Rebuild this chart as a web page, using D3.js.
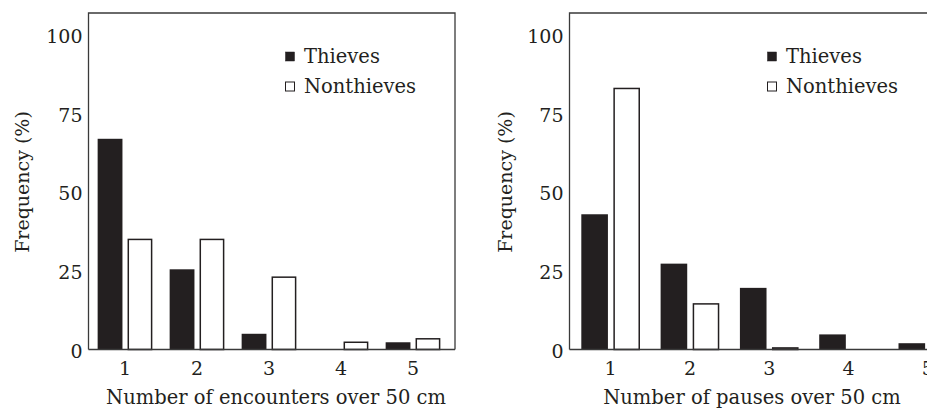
<!DOCTYPE html>
<html>
<head>
<meta charset="utf-8">
<script src="https://cdn.jsdelivr.net/npm/d3@7"></script>
<style>
  html, body { margin: 0; padding: 0; background: #fff; }
  svg { display: block; }
  text { font-family: "DejaVu Serif", "Liberation Serif", serif; fill: #231f20; }
</style>
</head>
<body>
<svg id="chart" width="927" height="409"></svg>
<script>
// ---- data ----
const categories = ["1", "2", "3", "4", "5"];
const seriesNames = ["Thieves", "Nonthieves"];
const yTicks = [0, 25, 50, 75, 100];
const encountersThieves = [67, 25.5, 5, 0, 2.3];
const encountersNonthieves = [35, 35, 23, 2.3, 3.4];
const pausesThieves = [43, 27.3, 19.6, 4.8, 2];
const pausesNonthieves = [83, 14.5, 0.5, 0, 0];
const xTitles = ["Number of encounters over 50 cm", "Number of pauses over 50 cm"];
const yTitle = "Frequency (%)";

const svg = d3.select("#chart");
const ink = "#231f20";
const lineCol = "#3a3a3a";

const panels = [
  { thieves: encountersThieves, non: encountersNonthieves, xTitle: xTitles[0],
    frameL: 88.5, frameR: 455, bandL: 89, bandR: 449, pi: 0.24,
    yTitleX: 22, xTitleX: 276, legX: 285 },
  { thieves: pausesThieves, non: pausesNonthieves, xTitle: xTitles[1],
    frameL: 569.5, frameR: 980, bandL: 571, bandR: 967.5, pi: 0.26,
    yTitleX: 505, xTitleX: 752, legX: 767 }
];

const plotTop = 13, plotBottom = 349.5;
const y = d3.scaleLinear().domain([0, 100]).range([plotBottom, 35]);

panels.forEach(p => {
  const g = svg.append("g");
  const x = d3.scaleBand().domain(categories).range([p.bandL, p.bandR])
    .paddingInner(p.pi).paddingOuter(p.pi / 2);
  const xs = d3.scaleBand().domain(seriesNames).range([0, x.bandwidth()])
    .paddingInner(0.17).paddingOuter(0);

  // bars
  const rows = [];
  categories.forEach((c, i) => {
    rows.push({ c, s: "Thieves", v: p.thieves[i] });
    rows.push({ c, s: "Nonthieves", v: p.non[i] });
  });
  g.selectAll("rect.bar").data(rows.filter(d => d.v > 0)).join("rect")
    .attr("class", "bar")
    .attr("x", d => x(d.c) + xs(d.s) + (d.s === "Nonthieves" ? 0.75 : 0))
    .attr("width", d => xs.bandwidth() - (d.s === "Nonthieves" ? 1.5 : 0))
    .attr("y", d => y(d.v))
    .attr("height", d => plotBottom - y(d.v))
    .attr("fill", d => d.s === "Thieves" ? ink : "#fff")
    .attr("stroke", d => d.s === "Thieves" ? "none" : ink)
    .attr("stroke-width", 1.5);

  // frame
  g.append("path")
    .attr("d", `M${p.frameL},${plotBottom}V${plotTop}H${p.frameR}V${plotBottom}`)
    .attr("fill", "none").attr("stroke", lineCol).attr("stroke-width", 1.3);
  g.append("line")
    .attr("x1", p.frameL).attr("x2", p.frameR).attr("y1", plotBottom).attr("y2", plotBottom)
    .attr("stroke", lineCol).attr("stroke-width", 1.6);

  // y axis labels
  const yAxis = d3.axisLeft(y).tickValues(yTicks).tickSize(0).tickPadding(6);
  const ya = g.append("g").attr("transform", `translate(${p.frameL},1.5)`).call(yAxis);
  ya.select(".domain").remove();
  ya.selectAll("text").attr("font-size", 19).attr("font-family", "DejaVu Serif").attr("fill", ink);

  // x axis labels
  const xAxis = d3.axisBottom(x).tickSize(0).tickPadding(12);
  const xa = g.append("g").attr("transform", `translate(0,${plotBottom})`).call(xAxis);
  xa.select(".domain").remove();
  xa.selectAll("text").attr("font-size", 19).attr("font-family", "DejaVu Serif").attr("fill", ink);

  // titles
  g.append("text").attr("x", p.xTitleX).attr("y", 404).attr("text-anchor", "middle")
    .attr("font-size", 19.5).text(p.xTitle);
  g.append("text").attr("transform", `translate(${p.yTitleX},182) rotate(-90)`)
    .attr("text-anchor", "middle").attr("dy", "0.35em")
    .attr("font-size", 19).text(yTitle);

  // legend
  const leg = g.append("g");
  seriesNames.forEach((s, i) => {
    const cy = 56.5 + i * 30;
    leg.append("rect").attr("x", p.legX + 0.5).attr("y", cy - 4.5).attr("width", 9).attr("height", 9)
      .attr("fill", i === 0 ? ink : "#fff").attr("stroke", ink).attr("stroke-width", i === 0 ? 0.5 : 1);
    leg.append("text").attr("x", p.legX + 19).attr("y", cy).attr("dy", "0.35em")
      .attr("font-size", 19.5).text(s);
  });
});
</script>
</body>
</html>
